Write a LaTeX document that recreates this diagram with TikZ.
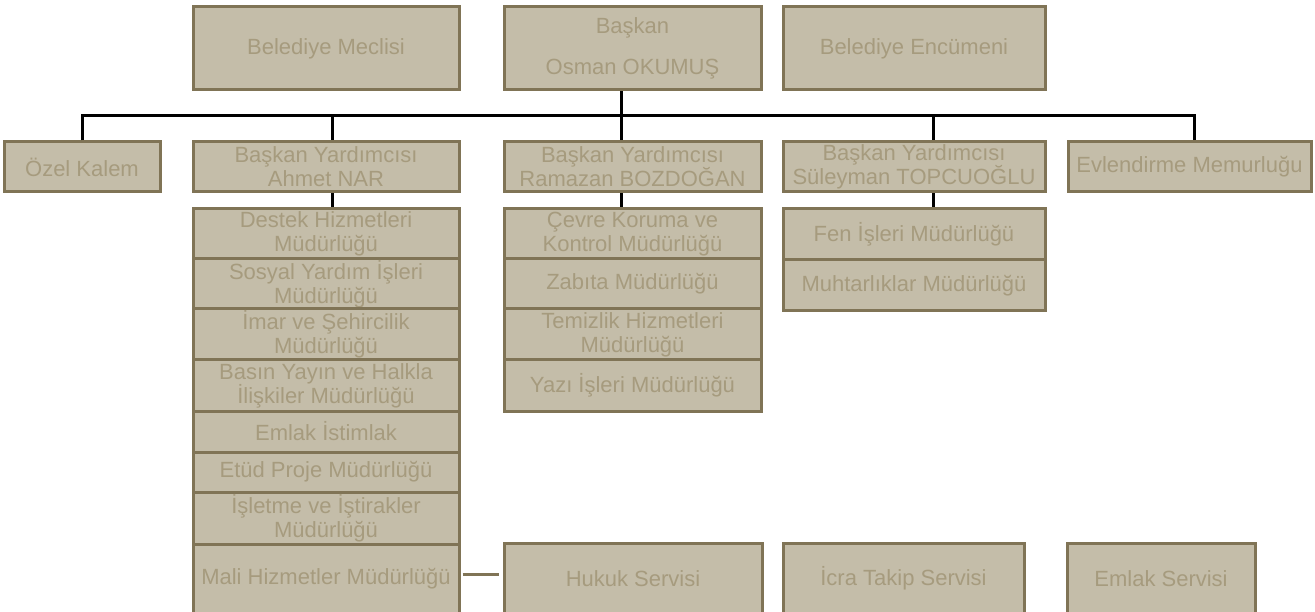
\documentclass[tikz,border=0pt]{standalone}
\usepackage{fontspec}
\setmainfont{Liberation Sans}
\usepackage{tikz}
\usetikzlibrary{calc}
\usetikzlibrary{positioning}
\definecolor{kutudolgu}{HTML}{C4BDA9}
\definecolor{kutucizgi}{HTML}{807456}
\definecolor{kutuyazi}{HTML}{A69B7E}
\tikzstyle{kutu} = [draw = kutucizgi, fill = kutudolgu, line width = 3pt, text = kutuyazi, inner sep = 0, align = center, font = \fontsize{22}{24}\selectfont]
\tikzstyle{bag} = [-, draw = black, line width = 3pt]

\begin{document}
\begin{tikzpicture}[x = 1pt, y = -1pt]
\useasboundingbox (0, 0) rectangle (1315, 612);
% ust sira
\node [kutu, minimum width = 266pt, minimum height = 83pt] (meclis) at (326, 48.5) {Belediye Meclisi};
\node [kutu, minimum width = 257pt, minimum height = 83pt] (baskan) at (632.5, 48.5) {Başkan\\[17pt]Osman OKUMUŞ};
\node [kutu, minimum width = 262pt, minimum height = 83pt] (encumen) at (914, 48.5) {Belediye Encümeni};
% ikinci sira
\node [kutu, minimum width = 156pt, minimum height = 50pt] (ozel) at (82, 167) {Özel Kalem};
\node [kutu, minimum width = 266pt, minimum height = 50pt] (ahmet) at (326, 167) {Başkan Yardımcısı\\Ahmet NAR};
\node [kutu, minimum width = 257pt, minimum height = 50pt] (ramazan) at (632.5, 167) {Başkan Yardımcısı\\Ramazan BOZDOĞAN};
\node [kutu, minimum width = 262pt, minimum height = 50pt] (suleyman) at (914, 167) {Başkan Yardımcısı\\Süleyman TOPCUOĞLU};
\node [kutu, minimum width = 243pt, minimum height = 50pt] (evlen) at (1189.5, 167) {Evlendirme Memurluğu};
% ahmet nar mudurlukleri
\node [kutu, minimum width = 266pt, minimum height = 50pt] (destek) at (326, 234) {Destek Hizmetleri\\Müdürlüğü};
\node [kutu, minimum width = 266pt, minimum height = 50pt] (sosyal) at (326, 284) {Sosyal Yardım İşleri\\Müdürlüğü};
\node [kutu, minimum width = 266pt, minimum height = 51pt] (imar) at (326, 334.5) {İmar ve Şehircilik\\Müdürlüğü};
\node [kutu, minimum width = 266pt, minimum height = 51pt] (basin) at (326, 385.5) {Basın Yayın ve Halkla\\İlişkiler Müdürlüğü};
\node [kutu, minimum width = 266pt, minimum height = 41pt] (istimlak) at (326, 431.5) {Emlak İstimlak};
\node [kutu, minimum width = 266pt, minimum height = 40pt] (etud) at (326, 472) {Etüd Proje Müdürlüğü};
\node [kutu, minimum width = 266pt, minimum height = 52pt] (isletme) at (326, 518) {İşletme ve İştirakler\\Müdürlüğü};
\node [kutu, minimum width = 266pt, minimum height = 70pt] (mali) at (326, 579) {Mali Hizmetler Müdürlüğü};
% ramazan bozdogan mudurlukleri
\node [kutu, minimum width = 257pt, minimum height = 50pt] (cevre) at (632.5, 234) {Çevre Koruma ve\\Kontrol Müdürlüğü};
\node [kutu, minimum width = 257pt, minimum height = 50pt] (zabita) at (632.5, 284) {Zabıta Müdürlüğü};
\node [kutu, minimum width = 257pt, minimum height = 51pt] (temizlik) at (632.5, 334.5) {Temizlik Hizmetleri\\Müdürlüğü};
\node [kutu, minimum width = 257pt, minimum height = 51pt] (yazi) at (632.5, 385.5) {Yazı İşleri Müdürlüğü};
% suleyman topcuoglu mudurlukleri
\node [kutu, minimum width = 262pt, minimum height = 51pt] (fen) at (914, 234.5) {Fen İşleri Müdürlüğü};
\node [kutu, minimum width = 262pt, minimum height = 51pt] (muhtar) at (914, 285.5) {Muhtarlıklar Müdürlüğü};
% servisler
\node [kutu, minimum width = 258pt, minimum height = 71pt] (hukuk) at (633, 578.5) {Hukuk Servisi};
\node [kutu, minimum width = 241pt, minimum height = 71pt] (icra) at (903.5, 578.5) {İcra Takip Servisi};
\node [kutu, minimum width = 188pt, minimum height = 71pt] (emlak) at (1161, 578.5) {Emlak Servisi};
% baglantilar
\coordinate (hat) at (621, 116);
\coordinate (h1) at (82, 116);
\coordinate (h2) at (332, 116);
\coordinate (h4) at (933, 116);
\coordinate (h5) at (1194, 116);
\draw [bag] (hat |- baskan.south) to (hat);
\draw [bag] (h1 |- ozel.north) -- (h1) -- (h5) -- (h5 |- evlen.north);
\draw [bag] (h2) to (h2 |- ahmet.north);
\draw [bag] (hat) to (hat |- ramazan.north);
\draw [bag] (h4) to (h4 |- suleyman.north);
\draw [bag] (h2 |- ahmet.south) to (h2 |- destek.north);
\draw [bag] (hat |- ramazan.south) to (hat |- cevre.north);
\draw [bag] (h4 |- suleyman.south) to (h4 |- fen.north);
\draw [-, draw = kutucizgi, line width = 3pt] ([xshift = 2pt, yshift = 5pt] mali.east) to ([xshift = -4pt, yshift = 5pt] mali.east -| hukuk.west);
\end{tikzpicture}
\end{document}
